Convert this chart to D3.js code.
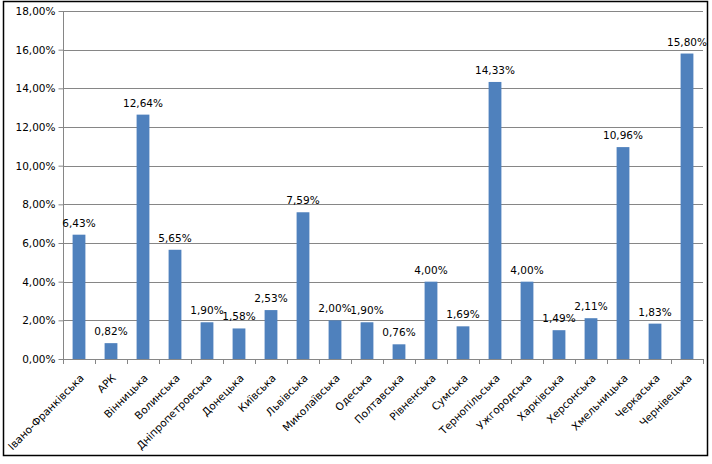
<!DOCTYPE html>
<html><head><meta charset="utf-8">
<script src="https://cdn.jsdelivr.net/npm/d3@7"></script>
<style>body{margin:0;background:#fff}svg{display:block}</style>
</head><body><svg id="c" width="712" height="464"></svg>
<script>
const categories = ["Івано-Франківська","АРК","Вінницька","Волинська","Дніпропетровська","Донецька","Київська","Львівська","Миколаївська","Одеська","Полтавська","Рівненська","Сумська","Тернопільська","Ужгородська","Харківська","Херсонська","Хмельницька","Черкаська","Чернівецька"];
const values = [6.43,0.82,12.64,5.65,1.90,1.58,2.53,7.59,2.00,1.90,0.76,4.00,1.69,14.33,4.00,1.49,2.11,10.96,1.83,15.80];
const yTicks = [0,2,4,6,8,10,12,14,16,18];

const svg = d3.select("#c");
const font = "DejaVu Sans, Verdana, sans-serif";
const L = 63, R = 703, T = 11, B = 359;
const fmt = v => v.toFixed(2).replace(".", ",") + "%";

svg.append("rect").attr("x",3.5).attr("y",1.5).attr("width",704).attr("height",454)
  .attr("fill","#fff").attr("stroke","#000").attr("stroke-width",1.5);

const x = d3.scaleBand().domain(categories).range([L,R]).paddingInner(0.6).paddingOuter(0.3);
const y = d3.scaleLinear().domain([0,18]).range([B,T]);

// gridlines
svg.append("g").selectAll("line").data(yTicks.filter(d=>d>0)).join("line")
  .attr("x1",L).attr("x2",R).attr("y1",d=>Math.round(y(d))+0.5).attr("y2",d=>Math.round(y(d))+0.5)
  .attr("stroke","#868686").attr("stroke-width",1);

// y axis
const ya = svg.append("g").attr("transform",`translate(${L+0.5},0)`)
  .call(d3.axisLeft(y).tickValues(yTicks).tickSize(5).tickFormat(fmt));
ya.select(".domain").attr("stroke","#868686").attr("d",`M0,${T}V${B}`);
ya.selectAll(".tick line").attr("stroke","#868686");
ya.selectAll("text").attr("font-family",font).attr("font-size","10.5px").attr("fill","#000").attr("x",-8);

// bars
svg.append("g").selectAll("rect").data(values).join("rect")
  .attr("x",(d,i)=>x(categories[i])).attr("width",x.bandwidth())
  .attr("y",d=>y(d)).attr("height",d=>B-y(d)).attr("fill","#4F81BD");

// x axis
const xa = svg.append("g");
xa.append("line").attr("x1",L).attr("x2",R).attr("y1",B+0.5).attr("y2",B+0.5).attr("stroke","#868686");
xa.selectAll("line.t").data(d3.range(categories.length+1)).join("line").attr("class","t")
  .attr("x1",i=>Math.round(L+i*(R-L)/categories.length)+0.5).attr("x2",i=>Math.round(L+i*(R-L)/categories.length)+0.5)
  .attr("y1",B).attr("y2",B+5).attr("stroke","#868686");
xa.selectAll("text").data(categories).join("text")
  .attr("transform",d=>`translate(${x(d)+x.bandwidth()/2+3},${B+17}) rotate(-45)`)
  .attr("text-anchor","end").attr("dy","0.35em")
  .attr("font-family",font).attr("font-size","10.5px").attr("fill","#000").text(d=>d);

// value labels
svg.append("g").selectAll("text").data(values).join("text")
  .attr("x",(d,i)=>x(categories[i])+x.bandwidth()/2).attr("y",d=>y(d)-8)
  .attr("text-anchor","middle").attr("font-family",font).attr("font-size","10.5px").attr("fill","#000")
  .text(fmt);
</script></body></html>
